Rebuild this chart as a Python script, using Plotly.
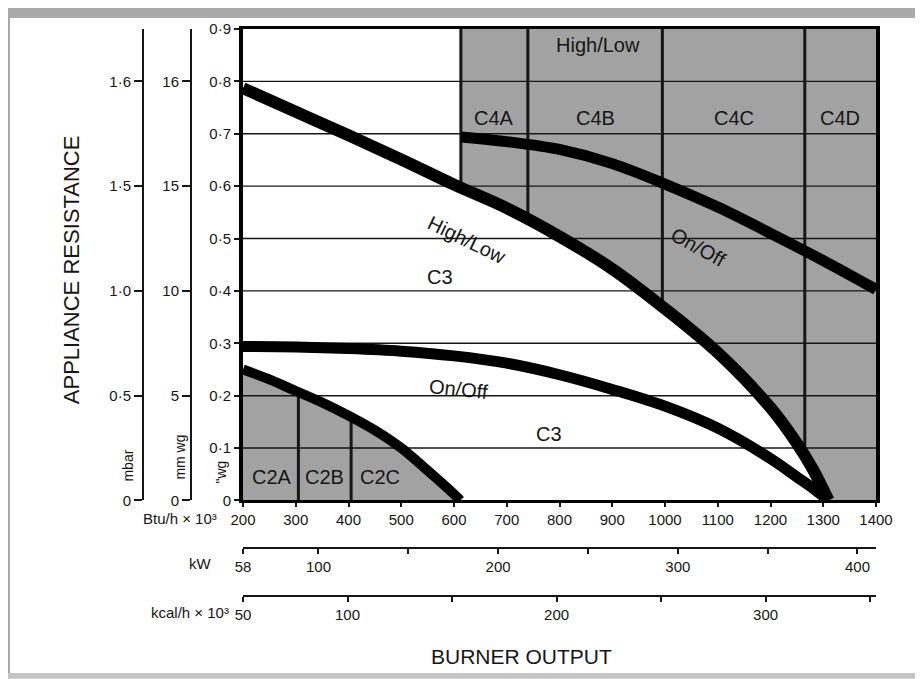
import numpy as np
import plotly.graph_objects as go

# ---------------- data ----------------
# Burner output, Btu/h x 10^3 ; appliance resistance, inches water gauge
btu_ticks = [200, 300, 400, 500, 600, 700, 800, 900, 1000, 1100, 1200, 1300, 1400]
wg_ticks = [0, 0.1, 0.2, 0.3, 0.4, 0.5, 0.6, 0.7, 0.8, 0.9]
wg_labels = ["0", "0·1", "0·2", "0·3", "0·4", "0·5", "0·6", "0·7", "0·8", "0·9"]
mmwg_pos = [0, 0.2, 0.4, 0.6, 0.8]
mmwg_labels = ["0", "5", "10", "15", "16"]
mbar_pos = [0, 0.2, 0.4, 0.6, 0.8]
mbar_labels = ["0", "0·5", "1·0", "1·5", "1·6"]
kw_ticks = [58, 100, 150, 200, 250, 300, 350, 400]
kw_labels = ["58", "100", "", "200", "", "300", "", "400"]
kcal_ticks = [50, 100, 150, 200, 250, 300, 350]
kcal_labels = ["50", "100", "", "200", "", "300", ""]
grid_levels = [0.1, 0.2, 0.3, 0.4, 0.5, 0.6, 0.7, 0.8]

# High/Low boundary curve
hl_x = [200, 300, 400, 500, 600, 700, 800, 900, 1000, 1100, 1200, 1250, 1280, 1310]
hl_y = [0.787, 0.742, 0.697, 0.651, 0.603, 0.558, 0.504, 0.442, 0.366, 0.282, 0.177, 0.109, 0.060, 0.0]
# On/Off curve, upper (C4 region)
oo1_x = [613, 700, 800, 900, 1000, 1100, 1200, 1300, 1400]
oo1_y = [0.694, 0.685, 0.670, 0.643, 0.604, 0.560, 0.510, 0.458, 0.403]
# On/Off curve, lower (C3 region)
oo2_x = [200, 300, 400, 500, 600, 700, 800, 900, 1000, 1100, 1200, 1250, 1285, 1310]
oo2_y = [0.294, 0.293, 0.290, 0.285, 0.276, 0.262, 0.240, 0.212, 0.180, 0.138, 0.080, 0.045, 0.020, 0.0]
# C2 boundary curve
c2_x = [200, 250, 300, 350, 400, 450, 500, 550, 600, 612]
c2_y = [0.250, 0.231, 0.209, 0.187, 0.162, 0.134, 0.100, 0.057, 0.012, 0.0]

c4_bounds = [613, 740, 995, 1265]
c2_bounds = [305, 405]

# region labels
region_text = ["High/Low", "C4A", "C4B", "C4C", "C4D", "C3", "C3", "C2A", "C2B", "C2C"]
region_x = [873, 676, 869, 1131, 1332, 574, 780, 255, 355, 460]
region_y = [0.870, 0.731, 0.731, 0.731, 0.731, 0.427, 0.126, 0.045, 0.045, 0.045]
curve_text = ["High/Low", "On/Off", "On/Off"]
curve_lx = [625, 1063, 608]
curve_ly = [0.498, 0.484, 0.212]
curve_angle = [26, 29, 6]

X_RANGE = [200, 1400]
Y_RANGE = [0, 0.9]
KW_RANGE = [58, 1400 / 3.412]
KCAL_RANGE = [50, 1400 / 3.968]

# ---------------- layout geometry ----------------
OFF = 8  # page body margin
W, H = 923 - OFF, 679 - OFF
ML, MR, MT, MB = 32, 47, 19, 40
PW, PH = W - ML - MR, H - MT - MB


def px(xp):
    return (xp - OFF - ML) / PW


def py(yp):
    return (H - MB - (yp - OFF)) / PH


XD0 = px(243)
YD0 = py(500)

FONT = "Liberation Sans, Arial, sans-serif"
INK = "#161616"
SHADE = "#a2a2a2"

fig = go.Figure()

# shaded C4 region (above High/Low, right of first C4 boundary)
x0 = c4_bounds[0]
hl_at_x0 = float(np.interp(x0, hl_x, hl_y))
seg = [(x, y) for x, y in zip(hl_x, hl_y) if x > x0]
c4_px = [x0, X_RANGE[1], X_RANGE[1]] + [x for x, _ in reversed(seg)] + [x0]
c4_py = [Y_RANGE[1], Y_RANGE[1], 0] + [y for _, y in reversed(seg)] + [hl_at_x0]
fig.add_trace(go.Scatter(x=c4_px, y=c4_py, fill="toself", fillcolor=SHADE,
                         line=dict(width=0), mode="lines", hoverinfo="skip", showlegend=False))
# shaded C2 region
fig.add_trace(go.Scatter(x=[c2_x[0]] + c2_x + [c2_x[0]], y=[0] + c2_y + [0], fill="toself",
                         fillcolor=SHADE, line=dict(width=0), mode="lines",
                         hoverinfo="skip", showlegend=False))

# horizontal grid lines (drawn over the shading)
for g in grid_levels:
    fig.add_trace(go.Scatter(x=X_RANGE, y=[g, g], mode="lines",
                             line=dict(color=INK, width=1.4), hoverinfo="skip", showlegend=False))

# vertical dividers
for b in c4_bounds:
    fig.add_trace(go.Scatter(x=[b, b], y=[float(np.interp(b, hl_x, hl_y)), Y_RANGE[1]], mode="lines",
                             line=dict(color=INK, width=3), hoverinfo="skip", showlegend=False))
for b in c2_bounds:
    fig.add_trace(go.Scatter(x=[b, b], y=[0, float(np.interp(b, c2_x, c2_y))], mode="lines",
                             line=dict(color=INK, width=3), hoverinfo="skip", showlegend=False))

# thick boundary curves
for cx, cy, w in [(hl_x, hl_y, 12), (oo1_x, oo1_y, 11), (oo2_x, oo2_y, 11), (c2_x, c2_y, 10)]:
    fig.add_trace(go.Scatter(x=cx, y=cy, mode="lines",
                             line=dict(color="black", width=w, shape="spline", smoothing=1.0),
                             hoverinfo="skip", showlegend=False))

# dummy traces so the extra axes are drawn
fig.add_trace(go.Scatter(x=KW_RANGE, y=[None, None], xaxis="x2", yaxis="y", mode="lines",
                         hoverinfo="skip", showlegend=False))
fig.add_trace(go.Scatter(x=KCAL_RANGE, y=[None, None], xaxis="x3", yaxis="y", mode="lines",
                         hoverinfo="skip", showlegend=False))
fig.add_trace(go.Scatter(x=[None, None], y=Y_RANGE, xaxis="x", yaxis="y2", mode="lines",
                         hoverinfo="skip", showlegend=False))
fig.add_trace(go.Scatter(x=[None, None], y=Y_RANGE, xaxis="x", yaxis="y3", mode="lines",
                         hoverinfo="skip", showlegend=False))

tickfont = dict(family=FONT, size=15, color=INK)

annotations = []
for t, x, y in zip(region_text, region_x, region_y):
    annotations.append(dict(x=x, y=y, xref="x", yref="y", text=t, showarrow=False,
                            font=dict(family=FONT, size=20, color=INK)))
for t, x, y, a in zip(curve_text, curve_lx, curve_ly, curve_angle):
    annotations.append(dict(x=x, y=y, xref="x", yref="y", text=t, showarrow=False, textangle=a,
                            font=dict(family=FONT, size=20, color=INK)))

side_labels = [
    ("Btu/h × 10³", 219, 518, 0, "right", 15),
    ("kW", 214, 563, 0, "right", 15),
    ("kcal/h × 10³", 231, 612, 0, "right", 15),
    ('"wg', 221, 472, -90, "center", 14),
    ("mm wg", 180, 457, -90, "center", 14),
    ("mbar", 128, 465, -90, "center", 14),
    ("APPLIANCE RESISTANCE", 71, 269, -90, "center", 22),
    ("BURNER OUTPUT", 521, 657, 0, "center", 21),
]
for t, xp, yp, ang, anc, fs in side_labels:
    annotations.append(dict(x=px(xp), y=py(yp), xref="paper", yref="paper", text=t, showarrow=False,
                            textangle=ang, xanchor=anc, yanchor="middle",
                            font=dict(family=FONT, size=fs, color=INK)))

# scanned page border bands
border = "#a9a9a9"
shapes = [
    dict(type="rect", xref="paper", yref="paper", x0=px(2), x1=px(10), y0=py(679), y1=py(8),
         fillcolor=border, line=dict(width=0), layer="below"),
    dict(type="rect", xref="paper", yref="paper", x0=px(2), x1=px(923), y0=py(16), y1=py(6),
         fillcolor=border, line=dict(width=0), layer="below"),
    dict(type="rect", xref="paper", yref="paper", x0=px(2), x1=px(923), y0=py(679), y1=py(673),
         fillcolor="#c4c4c4", line=dict(width=0), layer="below"),
]

fig.update_layout(
    width=W, height=H,
    margin=dict(l=ML, r=MR, t=MT, b=MB),
    paper_bgcolor="white", plot_bgcolor="white",
    showlegend=False,
    font=dict(family=FONT, color=INK),
    xaxis=dict(domain=[XD0, 1], range=X_RANGE, tickvals=btu_ticks, ticks="outside", ticklen=4,
               tickwidth=1.5, tickcolor=INK, showline=True, linewidth=3, linecolor="black", mirror=True,
               showgrid=False, zeroline=False, tickfont=tickfont, anchor="y"),
    yaxis=dict(domain=[YD0, 1], range=Y_RANGE, tickvals=wg_ticks, ticktext=wg_labels, ticks="outside",
               ticklen=5, tickwidth=1.5, tickcolor=INK, showline=True, linewidth=4, linecolor="black",
               mirror=True, showgrid=False, zeroline=False, tickfont=tickfont, anchor="x"),
    yaxis2=dict(overlaying="y", anchor="free", position=px(191), side="left", range=Y_RANGE,
                tickvals=mmwg_pos, ticktext=mmwg_labels, ticks="outside", ticklen=8, tickwidth=1.5,
                tickcolor=INK, showline=True, linewidth=2, linecolor=INK, showgrid=False,
                zeroline=False, tickfont=tickfont),
    yaxis3=dict(overlaying="y", anchor="free", position=px(143), side="left", range=Y_RANGE,
                tickvals=mbar_pos, ticktext=mbar_labels, ticks="outside", ticklen=8, tickwidth=1.5,
                tickcolor=INK, showline=True, linewidth=2, linecolor=INK, showgrid=False,
                zeroline=False, tickfont=tickfont),
    xaxis2=dict(overlaying="x", anchor="free", position=py(548), side="bottom", domain=[XD0, 1],
                range=KW_RANGE, tickvals=kw_ticks, ticktext=kw_labels, ticks="outside", ticklen=5,
                tickwidth=1.5, tickcolor=INK, showline=True, linewidth=2, linecolor=INK,
                showgrid=False, zeroline=False, tickfont=tickfont),
    xaxis3=dict(overlaying="x", anchor="free", position=py(596), side="bottom", domain=[XD0, 1],
                range=KCAL_RANGE, tickvals=kcal_ticks, ticktext=kcal_labels, ticks="outside", ticklen=5,
                tickwidth=1.5, tickcolor=INK, showline=True, linewidth=2, linecolor=INK,
                showgrid=False, zeroline=False, tickfont=tickfont),
    annotations=annotations,
    shapes=shapes,
)

fig.write_html("out.html")
